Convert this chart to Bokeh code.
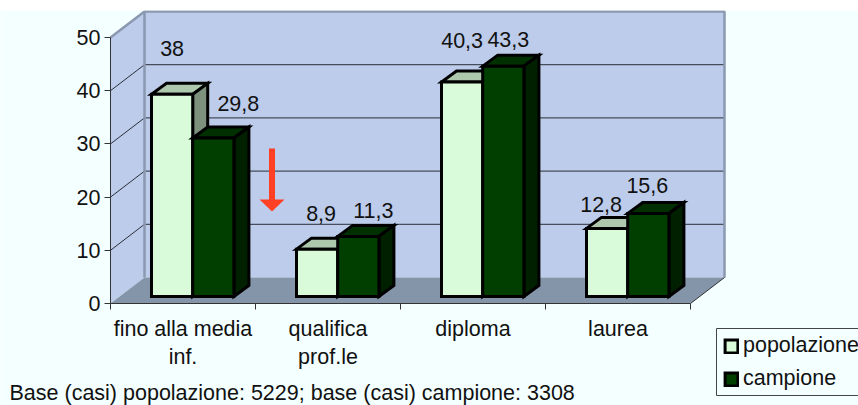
from bokeh.plotting import figure
from bokeh.embed import file_html
from bokeh.resources import INLINE
from bokeh.models import Range1d, FixedTicker, Legend, LegendItem, Label, ColumnDataSource
from bokeh.core.properties import value

categories = ["fino alla media\ninf.", "qualifica\nprof.le", "diploma", "laurea"]
series_names = ["popolazione", "campione"]
popolazione = [38, 8.9, 40.3, 12.8]
campione = [29.8, 11.3, 43.3, 15.6]
pop_labels = ["38", "8,9", "40,3", "12,8"]
cam_labels = ["29,8", "11,3", "43,3", "15,6"]
y_ticks = [0, 10, 20, 30, 40, 50]
footnote = "Base (casi) popolazione: 5229; base (casi) campione: 3308"

FONT = "Liberation Sans"
FS = "21.5px"
BG = "#F4FFFF"
WALL = "#BCCCEA"
FLOOR = "#8494A9"
EDGE = "#8A98B0"

# pixel scale of the two axes, and the 3D depth offsets
PX_X, PX_Y = 145.0, 5.32
DX, DY = 34 / PX_X, 26 / PX_Y            # room depth
BDX, BDY = 15 / PX_X, 11 / PX_Y          # bar depth
BASE_X, BASE_Y = 41 / PX_X, 7 / PX_Y     # where bars stand on the floor
BW = 41.2 / PX_X                         # bar width
N = len(categories)
YMAX = y_ticks[-1]

# the frame fills the canvas; origin of the chart sits at pixel (110, 303)
L, T, W, H = 0, 10, 858, 395
OX, OY = 110, 303
def sx(px): return (px - OX) / PX_X
def sy(px): return (OY - px) / PX_Y

p = figure(width=W, height=H, frame_width=W, frame_height=H,
           x_range=Range1d(sx(L), sx(L + W)), y_range=Range1d(sy(T + H), sy(T)),
           min_border_left=0, min_border_right=0, min_border_top=0, min_border_bottom=0,
           output_backend="svg", toolbar_location=None, margin=(T, 0, 0, 0),
           background_fill_color=BG, border_fill_color=BG, outline_line_color=None)
p.grid.visible = False

# room
p.patch([DX, N + DX, N + DX, DX], [DY, DY, YMAX + DY, YMAX + DY], fill_color=WALL, line_color=None)
p.patch([0, DX, DX, 0], [0, DY, YMAX + DY, YMAX], fill_color=WALL, line_color=None)
p.patch([0, N, N + DX, DX], [0, 0, DY, DY], fill_color=FLOOR, line_color=None)
grid = y_ticks[1:-1]
p.multi_line([[0, DX, N + DX] for _ in grid], [[v, v + DY, v + DY] for v in grid],
             line_color="#2b2f3a", line_width=1)
p.multi_line([[0, DX, N + DX, N + DX], [DX, DX]],
             [[YMAX, YMAX + DY, YMAX + DY, DY], [DY, YMAX + DY]],
             line_color=EDGE, line_width=2.5)
p.line([N, N + DX], [0, DY], line_color="#333333", line_width=1)


def bars(values, index, front, top, side):
    xs_top, ys_top, xs_side, ys_side, xs_f, ys_f = [], [], [], [], [], []
    for i, v in enumerate(values):
        x0 = i + BASE_X + index * BW
        x1 = x0 + BW
        y0 = BASE_Y
        y1 = BASE_Y + v
        xs_top.append([x0, x1, x1 + BDX, x0 + BDX])
        ys_top.append([y1, y1, y1 + BDY, y1 + BDY])
        xs_side.append([x1, x1 + BDX, x1 + BDX, x1])
        ys_side.append([y0, y0 + BDY, y1 + BDY, y1])
        xs_f.append([x0, x1, x1, x0])
        ys_f.append([y0, y0, y1, y1])
    kw = dict(line_color="black", line_width=3, line_join="miter")
    p.patches(xs_top, ys_top, fill_color=top, **kw)
    p.patches(xs_side, ys_side, fill_color=side, **kw)
    return p.patches(xs_f, ys_f, fill_color=front, **kw)


r_pop = bars(popolazione, 0, "#D9FBD9", "#ADC8AD", "#7D917D")
r_cam = bars(campione, 1, "#003F00", "#003000", "#002000")

# arrow
arrow_x = sx(271.5)
p.segment(x0=[arrow_x], y0=[sy(148)], x1=[arrow_x], y1=[sy(200)],
          line_color="#FF4025", line_width=6)
p.patch([sx(259), sx(284), arrow_x], [sy(199), sy(199), sy(211)],
        fill_color="#FF4025", line_color=None)

# data labels (manual offsets like the original)
pop_x = [i + BASE_X + 0.5 * BW for i in range(N)]
cam_x = [i + BASE_X + 1.5 * BW for i in range(N)]
pop_dy = [-46, -36, -42, -24]
pop_dx = [0, 4, 0, -6]
cam_dy = [-34, -26, -27, -28]
cam_dx = [25, 15, 5, -1]
src = ColumnDataSource(dict(
    x=pop_x + cam_x,
    y=[BASE_Y + v for v in popolazione + campione],
    t=pop_labels + cam_labels,
    dx=pop_dx + cam_dx,
    dy=pop_dy + cam_dy))
p.text("x", "y", text="t", source=src, x_offset="dx", y_offset="dy", text_align="center",
       text_baseline="middle", text_font=value(FONT), text_font_size=FS, text_color="#111111")

# axes
p.yaxis.fixed_location = 0
p.yaxis.ticker = FixedTicker(ticks=y_ticks)
p.yaxis.bounds = (0, YMAX)
p.yaxis.major_tick_in = 0
p.yaxis.major_tick_out = 6
p.yaxis.minor_tick_line_color = None
p.yaxis.axis_line_color = "#333333"
p.yaxis.major_tick_line_color = "#333333"
p.yaxis.major_label_text_font = FONT
p.yaxis.major_label_text_font_size = FS
p.yaxis.major_label_text_color = "#111111"
p.yaxis.major_label_standoff = 4

cat_ticks = [i + 0.5 for i in range(N)]
p.xaxis.fixed_location = 0
p.xaxis.ticker = FixedTicker(ticks=cat_ticks, minor_ticks=list(range(N + 1)))
p.xaxis.bounds = (0, N)
p.xaxis.major_label_overrides = {t: c for t, c in zip(cat_ticks, categories)}
p.xaxis.major_tick_in = 0
p.xaxis.major_tick_out = 0
p.xaxis.minor_tick_in = 0
p.xaxis.minor_tick_out = 6
p.xaxis.axis_line_color = "#333333"
p.xaxis.minor_tick_line_color = "#333333"
p.xaxis.major_label_text_font = FONT
p.xaxis.major_label_text_font_size = FS
p.xaxis.major_label_text_color = "#111111"
p.xaxis.major_label_standoff = 7
p.xaxis.major_label_text_align = "center"

# footnote
p.add_layout(Label(x=sx(9), y=sy(404), text=footnote,
                   text_font=FONT, text_font_size=FS, text_color="#111111"))

# legend frame, then the legend itself without a frame of its own
p.quad(left=[sx(716)], right=[sx(880)], bottom=[sy(395)], top=[sy(328)],
       fill_color=BG, line_color="#444444", line_width=1)
legend = Legend(items=[LegendItem(label=series_names[0], renderers=[r_pop]),
                       LegendItem(label=series_names[1], renderers=[r_cam])],
                location=(723 - L, T + H - 391), orientation="vertical",
                label_text_font=FONT, label_text_font_size=FS, label_text_color="#111111",
                glyph_width=16, glyph_height=16, label_standoff=4, padding=7, spacing=8,
                margin=0, background_fill_alpha=0, border_line_color=None)
p.add_layout(legend)

open("out.html", "w").write(file_html(p, INLINE))
